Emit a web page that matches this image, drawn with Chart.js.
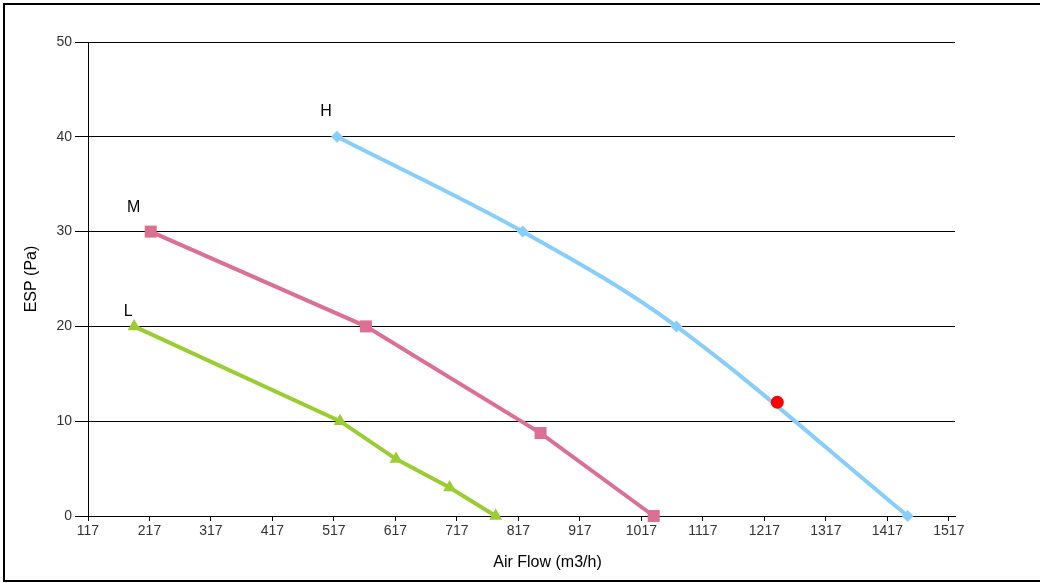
<!DOCTYPE html>
<html><head><meta charset="utf-8">
<script src="https://cdn.jsdelivr.net/npm/chart.js@4/dist/chart.umd.min.js"></script>
<style>
html,body{margin:0;padding:0;background:#fff;overflow:hidden}
#wrap{position:relative;width:1040px;height:583px;overflow:hidden;background:#fff}
#frame{position:absolute;left:3px;top:3px;width:1200px;height:579px;border:2px solid #000;box-sizing:border-box;pointer-events:none}
canvas{position:absolute;left:0;top:0}
</style></head><body>
<div id="wrap"><canvas id="c" width="1040" height="583"></canvas><div id="frame"></div></div>
<script>
// ---- data ----
const xTickValues = [117, 217, 317, 417, 517, 617, 717, 817, 917, 1017, 1117, 1217, 1317, 1417, 1517];
const yTickValues = [0, 10, 20, 30, 40, 50];
const seriesNames = ['H', 'M', 'L'];
const hFlow = [522, 824, 1074, 1450];
const hEsp  = [40, 30, 20, 0];
const mFlow = [219, 569, 853, 1037];
const mEsp  = [30, 20, 8.75, 0];
const lFlow = [192, 527, 618, 705, 780];
const lEsp  = [20, 10, 6, 3, 0];
const opFlow = [1238];
const opEsp  = [12];
const xTitle = 'Air Flow (m3/h)';
const yTitle = 'ESP (Pa)';

const toPts = (xs, ys) => xs.map((x, i) => ({x: x, y: ys[i]}));

const FONT = '"Liberation Sans", Arial, sans-serif';

const seriesLabelPlugin = {
  id: 'seriesLabels',
  afterDatasetsDraw(chart) {
    const ctx = chart.ctx;
    const offsets = {H: [-11, -25], M: [-17, -24], L: [-6, -15]};
    ctx.save();
    ctx.font = '16px ' + FONT;
    ctx.fillStyle = '#000';
    ctx.textAlign = 'center';
    ctx.textBaseline = 'middle';
    chart.data.datasets.forEach((ds, i) => {
      if (!offsets[ds.label]) return;
      const p = chart.getDatasetMeta(i).data[0];
      const o = offsets[ds.label];
      ctx.fillText(ds.label, p.x + o[0], p.y + o[1]);
    });
    // x axis title
    const ca = chart.chartArea;
    ctx.fillText(xTitle, (ca.left + ca.right) / 2 + 26, 563);
    ctx.restore();
  }
};

new Chart(document.getElementById('c'), {
  type: 'line',
  data: {
    datasets: [
      {label: 'operating', data: toPts(opFlow, opEsp), showLine: false,
       pointStyle: 'circle', pointRadius: 6.5, pointBackgroundColor: '#ff0000', pointBorderColor: '#ff0000', pointBorderWidth: 0, clip: false, order: 0},
      {label: seriesNames[0], data: toPts(hFlow, hEsp), borderColor: '#87cefa', backgroundColor: '#87cefa',
       borderWidth: 4, tension: 0.35, pointStyle: 'rectRot', pointRadius: 6, pointBorderWidth: 0, clip: false, order: 1},
      {label: seriesNames[1], data: toPts(mFlow, mEsp), borderColor: '#db7093', backgroundColor: '#db7093',
       borderWidth: 4, tension: 0, pointStyle: 'rect', pointRadius: 8.5, pointBorderWidth: 0, clip: false, order: 2},
      {label: seriesNames[2], data: toPts(lFlow, lEsp), borderColor: '#9acd32', backgroundColor: '#9acd32',
       borderWidth: 4, tension: 0, pointStyle: 'triangle', pointRadius: 7.5, pointBorderWidth: 0, clip: false, order: 3}
    ]
  },
  options: {
    responsive: false,
    animation: false,
    devicePixelRatio: 1,
    layout: {padding: {left: 0, top: 42, right: 85, bottom: 0}},
    plugins: {legend: {display: false}, tooltip: {enabled: false}},
    scales: {
      x: {
        type: 'linear', min: 117, max: 1527,
        afterBuildTicks: (s) => { s.ticks = xTickValues.map(v => ({value: v})); },
        afterFit: (s) => { s.height = 67; },
        ticks: {color: '#333', font: {family: FONT, size: 14}, padding: 2, maxRotation: 0, autoSkip: false,
                callback: (v) => String(v)},
        grid: {drawOnChartArea: false, drawTicks: true, tickLength: 5, color: '#000', lineWidth: 1},
        border: {display: true, color: '#000', width: 1}
      },
      y: {
        type: 'linear', min: 0, max: 50,
        afterBuildTicks: (s) => { s.ticks = yTickValues.map(v => ({value: v})); },
        afterFit: (s) => { s.width = 88; },
        ticks: {color: '#333', font: {family: FONT, size: 14}, padding: 3, callback: (v) => String(v)},
        grid: {color: '#000', lineWidth: 1, tickLength: 13, drawTicks: true},
        border: {display: true, color: '#000', width: 1},
        title: {display: true, text: yTitle, color: '#000', font: {family: FONT, size: 16}, padding: {top: 22, bottom: 0}}
      }
    }
  },
  plugins: [seriesLabelPlugin]
});
</script>
</body></html>
